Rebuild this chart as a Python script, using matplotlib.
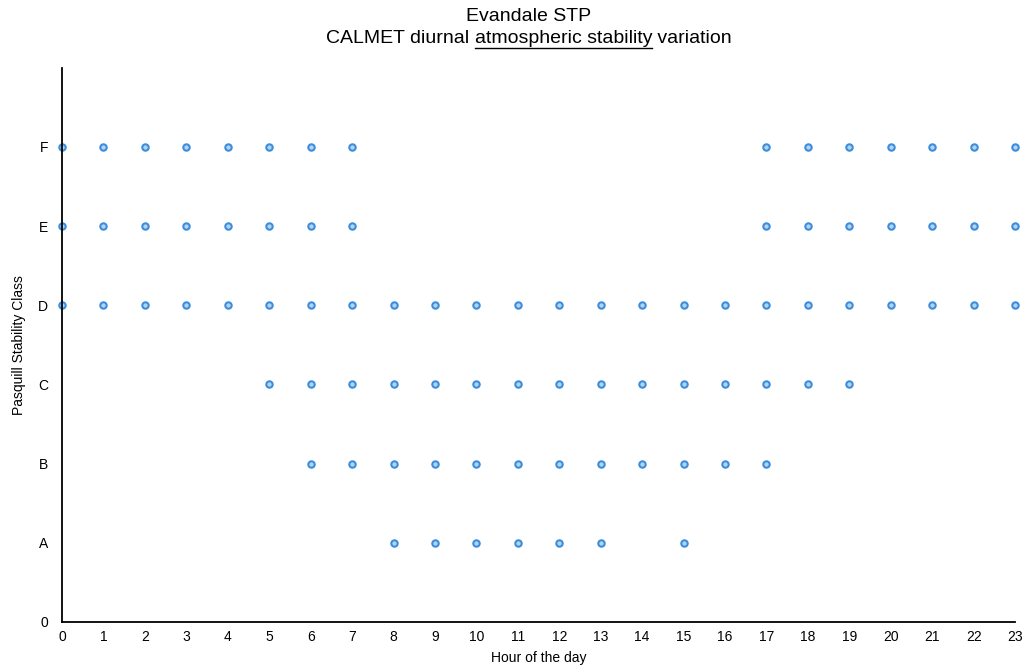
import matplotlib.pyplot as plt
from matplotlib.lines import Line2D

plt.rcParams['font.family'] = ['Liberation Sans', 'DejaVu Sans']

# stability class -> hours of the day where it occurs
class_labels = ['0', 'A', 'B', 'C', 'D', 'E', 'F']
hours_A = [8, 9, 10, 11, 12, 13, 15]
hours_B = [6, 7, 8, 9, 10, 11, 12, 13, 14, 15, 16, 17]
hours_C = [5, 6, 7, 8, 9, 10, 11, 12, 13, 14, 15, 16, 17, 18, 19]
hours_D = list(range(0, 24))
hours_E = [0, 1, 2, 3, 4, 5, 6, 7, 17, 18, 19, 20, 21, 22, 23]
hours_F = [0, 1, 2, 3, 4, 5, 6, 7, 17, 18, 19, 20, 21, 22, 23]

fig = plt.figure(figsize=(10.27, 6.67), dpi=100)
ax = fig.add_axes([0.0604, 0.0675, 0.928, 0.831])

for level, hrs in enumerate([hours_A, hours_B, hours_C, hours_D, hours_E, hours_F], start=1):
    ax.plot(hrs, [level] * len(hrs), 'o', ms=4.6, mfc='#b3d4f4', mec='#3c8ddb',
            mew=1.5, clip_on=False)

ax.set_xlim(0, 23)
ax.set_ylim(0, 7)
ax.set_xticks(range(24))
ax.set_yticks(range(7))
ax.set_yticklabels(class_labels)
ax.tick_params(length=0, labelsize=10)
ax.tick_params(axis='x', pad=6)
ax.tick_params(axis='y', pad=10)
ax.spines['top'].set_visible(False)
ax.spines['right'].set_visible(False)
ax.spines['left'].set_linewidth(1.3)
ax.spines['bottom'].set_linewidth(1.3)

ax.set_xlabel("Hour of the day", fontsize=10, labelpad=5)
ax.set_ylabel("Pasquill Stability Class", fontsize=10, labelpad=9)

fig.text(0.515, 0.975, "Evandale STP", ha='center', va='center', fontsize=14)

# second title line, with the middle words underlined
parts = ["CALMET diurnal ", "atmospheric stability", " variation"]
renderer = fig.canvas.get_renderer()
tmp = [fig.text(0, 0, p, fontsize=14) for p in parts]
widths = [t.get_window_extent(renderer).width / fig.bbox.width for t in tmp]
for t in tmp:
    t.remove()
x = 0.515 - sum(widths) / 2
yline = 0.942
for p, w in zip(parts, widths):
    fig.text(x, yline, p, ha='left', va='center', fontsize=14)
    if p == parts[1]:
        fig.add_artist(Line2D([x, x + w], [yline - 0.0145, yline - 0.0145],
                              color='black', lw=1.0, transform=fig.transFigure))
    x += w

fig.savefig("out.png", dpi=100)
